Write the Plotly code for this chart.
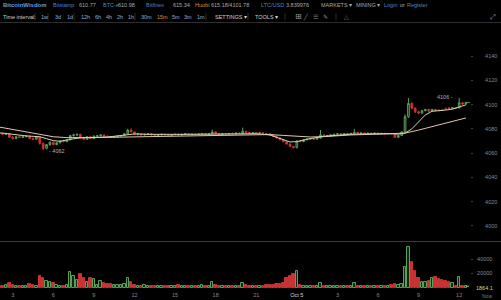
import plotly.graph_objects as go

# ---------------- data ----------------
O = [4076.5, 4076.0, 4075.5, 4076.2, 4073.0, 4072.0, 4073.5, 4073.0, 4073.6, 4074.0,
     4072.0, 4071.5, 4073.5, 4068.0, 4064.0, 4067.0, 4069.0, 4067.0, 4068.5, 4070.0,
     4069.5, 4071.0, 4074.5, 4075.0, 4075.5, 4072.5, 4071.5, 4073.5, 4072.0, 4074.0,
     4074.3, 4075.0, 4074.0, 4073.5, 4073.0, 4073.5, 4074.0, 4074.5, 4076.0, 4079.0,
     4077.5, 4075.5, 4076.0, 4075.0, 4075.5, 4076.0, 4075.0, 4074.5, 4075.0, 4075.5,
     4075.0, 4074.5, 4075.2, 4075.5, 4075.0, 4075.5, 4076.0, 4075.2, 4075.6, 4075.4,
     4075.8, 4076.2, 4075.5, 4076.0, 4077.5, 4076.0, 4075.5, 4076.0, 4075.6, 4076.2,
     4076.0, 4076.5, 4076.2, 4078.0, 4077.0, 4076.5, 4077.0, 4076.5, 4076.8, 4076.2,
     4076.0, 4075.0, 4074.0, 4072.5, 4071.0, 4069.5, 4067.5, 4065.5, 4064.5, 4070.0,
     4069.5, 4071.0, 4071.5, 4072.0, 4071.5, 4072.5, 4075.0, 4074.0, 4074.5, 4075.0,
     4075.5, 4076.0, 4075.6, 4076.2, 4075.8, 4076.3, 4077.0, 4076.4, 4076.6, 4076.0,
     4076.4, 4076.2, 4076.5, 4076.0, 4076.3, 4075.9, 4076.2, 4075.8, 4073.0, 4074.5,
     4077.5, 4090.0, 4101.0, 4097.0, 4094.0, 4093.0, 4095.0, 4096.0, 4094.5, 4096.0,
     4095.5, 4095.5, 4096.5, 4097.2, 4096.8, 4097.5, 4097.2, 4101.5, 4100.5]
H = [4077.5, 4077.0, 4076.8, 4076.5, 4074.0, 4074.0, 4074.5, 4074.0, 4074.5, 4074.5,
     4073.0, 4073.8, 4074.0, 4069.0, 4067.5, 4069.5, 4069.5, 4069.0, 4070.5, 4071.0,
     4071.5, 4075.0, 4076.0, 4076.0, 4076.0, 4073.5, 4074.0, 4074.0, 4074.5, 4074.8,
     4075.5, 4075.5, 4074.5, 4074.0, 4074.0, 4074.5, 4075.0, 4076.5, 4080.0, 4080.5,
     4078.0, 4076.5, 4076.5, 4076.0, 4076.5, 4076.5, 4075.5, 4075.5, 4076.0, 4076.0,
     4075.5, 4075.5, 4076.0, 4076.0, 4075.8, 4076.5, 4076.5, 4076.0, 4076.2, 4076.0,
     4076.5, 4076.6, 4076.5, 4079.5, 4078.0, 4076.5, 4076.5, 4076.5, 4076.5, 4076.8,
     4077.0, 4077.0, 4081.0, 4078.5, 4077.5, 4077.5, 4077.5, 4077.2, 4077.2, 4076.8,
     4076.5, 4075.5, 4074.5, 4073.0, 4071.5, 4070.0, 4068.0, 4066.0, 4070.5, 4071.0,
     4071.5, 4072.0, 4072.5, 4072.5, 4073.0, 4079.0, 4075.5, 4075.0, 4075.5, 4076.0,
     4076.5, 4076.5, 4076.5, 4076.8, 4076.6, 4080.0, 4077.5, 4077.0, 4077.0, 4076.8,
     4077.0, 4076.8, 4077.0, 4076.6, 4076.8, 4076.6, 4076.6, 4076.0, 4075.0, 4078.0,
     4092.0, 4105.5, 4102.0, 4098.0, 4095.0, 4095.5, 4096.5, 4096.5, 4096.5, 4096.5,
     4096.0, 4096.2, 4097.5, 4097.8, 4098.0, 4098.0, 4105.5, 4102.0, 4102.0]
L = [4075.5, 4075.0, 4074.8, 4072.5, 4071.0, 4071.5, 4072.5, 4072.5, 4073.0, 4071.5,
     4070.5, 4071.0, 4067.0, 4062.5, 4063.0, 4066.0, 4066.5, 4066.5, 4068.0, 4069.0,
     4069.0, 4070.5, 4073.5, 4074.0, 4072.0, 4071.0, 4071.0, 4071.5, 4071.5, 4073.5,
     4073.8, 4073.5, 4073.0, 4072.5, 4072.5, 4073.0, 4073.5, 4074.0, 4075.5, 4077.0,
     4075.0, 4074.5, 4074.5, 4074.5, 4075.0, 4074.5, 4074.0, 4074.0, 4074.5, 4074.5,
     4074.0, 4074.0, 4074.8, 4074.5, 4074.5, 4075.0, 4074.8, 4074.8, 4075.0, 4075.0,
     4075.2, 4075.0, 4075.0, 4075.5, 4075.5, 4075.0, 4075.0, 4075.2, 4075.2, 4075.5,
     4075.5, 4075.8, 4076.0, 4076.5, 4076.0, 4076.0, 4076.0, 4076.0, 4075.8, 4075.5,
     4074.5, 4073.5, 4072.0, 4070.5, 4069.0, 4067.0, 4065.0, 4064.0, 4064.0, 4069.0,
     4069.0, 4070.5, 4071.0, 4071.0, 4071.0, 4072.0, 4073.5, 4073.5, 4074.0, 4074.5,
     4075.0, 4075.2, 4075.2, 4075.5, 4075.4, 4076.0, 4076.0, 4075.8, 4075.8, 4075.5,
     4075.8, 4075.6, 4075.8, 4075.5, 4075.6, 4075.5, 4075.4, 4072.5, 4072.5, 4074.0,
     4077.0, 4089.0, 4096.0, 4093.0, 4092.0, 4092.5, 4094.5, 4094.0, 4094.0, 4094.5,
     4094.5, 4094.8, 4095.5, 4096.0, 4096.5, 4097.0, 4097.0, 4100.0, 4100.2]
C = [4076.0, 4075.5, 4076.2, 4073.0, 4072.0, 4073.5, 4073.0, 4073.6, 4074.0, 4072.0,
     4071.5, 4073.5, 4068.0, 4064.0, 4067.0, 4069.0, 4067.0, 4068.5, 4070.0, 4069.5,
     4071.0, 4074.5, 4075.0, 4075.5, 4072.5, 4071.5, 4073.5, 4072.0, 4074.0, 4074.3,
     4075.0, 4074.0, 4073.5, 4073.0, 4073.5, 4074.0, 4074.5, 4076.0, 4079.0, 4077.5,
     4075.5, 4076.0, 4075.0, 4075.5, 4076.0, 4075.0, 4074.5, 4075.0, 4075.5, 4075.0,
     4074.5, 4075.2, 4075.5, 4075.0, 4075.5, 4076.0, 4075.2, 4075.6, 4075.4, 4075.8,
     4076.2, 4075.5, 4076.0, 4077.5, 4076.0, 4075.5, 4076.0, 4075.6, 4076.2, 4076.0,
     4076.5, 4076.2, 4078.0, 4077.0, 4076.5, 4077.0, 4076.5, 4076.8, 4076.2, 4076.0,
     4075.0, 4074.0, 4072.5, 4071.0, 4069.5, 4067.5, 4065.5, 4064.5, 4070.0, 4069.5,
     4071.0, 4071.5, 4072.0, 4071.5, 4072.5, 4075.0, 4074.0, 4074.5, 4075.0, 4075.5,
     4076.0, 4075.6, 4076.2, 4075.8, 4076.3, 4077.0, 4076.4, 4076.6, 4076.0, 4076.4,
     4076.2, 4076.5, 4076.0, 4076.3, 4075.9, 4076.2, 4075.8, 4073.0, 4074.5, 4077.5,
     4090.0, 4101.0, 4097.0, 4094.0, 4093.0, 4095.0, 4096.0, 4094.5, 4096.0, 4095.0,
     4095.0, 4095.2, 4096.0, 4096.8, 4097.5, 4097.2, 4101.5, 4100.5, 4101.8]
VOL = [2000, 1500, 3000, 6000, 3500, 2500, 2000, 1800, 2200, 4500,
       3000, 1500, 17000, 13500, 10000, 8500, 6500, 3000, 2500, 2000,
       3000, 22000, 16000, 11000, 19000, 13000, 8500, 14000, 12000, 3000,
       10000, 7000, 5000, 4500, 3000, 3500, 3000, 5000, 14000, 8500,
       4000, 2500, 2000, 3000, 1800, 2200, 2500, 1500, 2000, 2800,
       2200, 1800, 2500, 3000, 2000, 2400, 1800, 2600, 2200, 2000,
       3000, 2500, 2000, 8500, 3000, 2000, 2500, 1800, 2200, 2000,
       2600, 2400, 7000, 3000, 2000, 2500, 2200, 1800, 2400, 3000,
       3500, 4000, 4500, 5000, 7000, 13000, 17000, 20000, 24000, 3000,
       2200, 2000, 2500, 1800, 2600, 7000, 2500, 2000, 2200, 1800,
       2500, 2000, 2400, 2200, 2000, 7000, 2000, 2400, 1800, 2200,
       2600, 2000, 2300, 1900, 2500, 2100, 3000, 5500, 4000, 4500,
       28600, 58000, 37000, 24000, 14000, 8000, 8000, 9500, 13000, 15000,
       12000, 10500, 9500, 8000, 6500, 2000, 15000, 2000, 1864.1]

MA_LONG_T = [2, 3, 4, 5, 6, 7, 8, 9, 10, 11, 12, 13, 14, 15, 16, 17, 18, 19, 20,
             21, 22, 23, 24, 25, 26, 27, 28, 29, 30, 31, 32, 33, 34, 35, 36, 36.5]
MA_LONG = [4081.5, 4079.5, 4077.5, 4075.5, 4073.5, 4072.8, 4072.6, 4072.8, 4073.0,
           4073.2, 4073.4, 4073.8, 4074.2, 4074.4, 4074.5, 4074.6, 4074.8, 4075.0,
           4075.2, 4075.3, 4075.3, 4074.6, 4073.8, 4073.3, 4073.6, 4074.4, 4075.0,
           4075.3, 4075.5, 4075.7, 4076.5, 4079.0, 4082.0, 4085.0, 4087.8, 4089.0]
MA_SHORT_T = [2, 3, 4, 5, 5.5, 6, 6.5, 7, 7.5, 8, 9, 10, 11, 12, 13, 14, 15, 16, 17,
              18, 19, 20, 21, 22, 22.5, 23, 23.5, 24, 24.5, 25, 26, 27, 28, 29, 30,
              31, 31.5, 32, 32.5, 33, 33.5, 34, 34.5, 35, 35.5, 36, 36.5]
MA_SHORT = [4076.8, 4075.2, 4074.2, 4073.5, 4072.0, 4070.3, 4069.8, 4070.5, 4071.8,
            4072.6, 4073.0, 4073.3, 4074.5, 4075.8, 4075.5, 4075.3, 4075.4, 4075.5,
            4075.6, 4075.8, 4076.2, 4076.4, 4076.0, 4075.0, 4073.0, 4071.0, 4069.2,
            4069.5, 4070.8, 4072.0, 4073.8, 4075.0, 4075.6, 4075.8, 4076.0, 4076.0,
            4075.6, 4076.5, 4080.0, 4085.5, 4091.5, 4094.5, 4095.3, 4095.5, 4096.2,
            4097.8, 4099.8]

PRICE_TICKS = [4000, 4020, 4040, 4060, 4080, 4100, 4120, 4140]
VOL_TICKS = [20000, 40000]
VOL_LABELS = ["20000", "40000"]
TIME_TICKS = [3, 6, 9, 12, 15, 18, 21, 24, 27, 30, 33, 36]
TIME_LABELS = ["3", "6", "9", "12", "15", "18", "21",
               '<span style="color:#d8d8d8">Oct 5</span>', "3", "6", "9", "12"]
LOW_LABEL, HIGH_LABEL = 4062, 4106
LAST_PRICE = 4101.78

# ---------------- layout constants ----------------
W, HGT = 501, 300
MT, MB, ML, MR = 24, 10, 0, 31
PW, PH = W - ML - MR, HGT - MT - MB

def px(x):
    return (x - ML) / PW

def py(y):
    return (HGT - MB - y) / PH

T = [2 + 0.25 * i for i in range(len(C))]
UP_LINE, UP_FILL = "#5c9e5c", "#102a10"
DN = "#c83232"
up = [c >= o for o, c in zip(O, C)]

fig = go.Figure()
fig.add_trace(go.Candlestick(
    x=T, open=O, high=H, low=L, close=C, xaxis="x", yaxis="y",
    increasing=dict(line=dict(color=UP_LINE, width=1), fillcolor=UP_FILL),
    decreasing=dict(line=dict(color=DN, width=1), fillcolor=DN),
    whiskerwidth=0, showlegend=False, hoverinfo="skip"))
fig.add_trace(go.Scatter(x=MA_LONG_T, y=MA_LONG, mode="lines", xaxis="x", yaxis="y",
                         line=dict(color="#e6c4b4", width=1), showlegend=False,
                         hoverinfo="skip"))
fig.add_trace(go.Scatter(x=MA_SHORT_T, y=MA_SHORT, mode="lines", xaxis="x", yaxis="y",
                         line=dict(color="#cfd6a8", width=1), showlegend=False,
                         hoverinfo="skip"))
fig.add_trace(go.Bar(
    x=T, y=VOL, xaxis="x2", yaxis="y2", width=0.18,
    marker=dict(color=[UP_FILL if u else DN for u in up],
                line=dict(color=[UP_LINE if u else DN for u in up], width=1)),
    showlegend=False, hoverinfo="skip"))

XR = [2.06, 36.80]
axis_font = dict(family="Liberation Sans, Arial, sans-serif", size=5.5, color="#8a8a8a")
fig.update_layout(
    width=W, height=HGT, margin=dict(l=ML, r=MR, t=MT, b=MB),
    paper_bgcolor="#000000", plot_bgcolor="#000000",
    bargap=0, showlegend=False,
    xaxis=dict(domain=[0, 1], range=XR, showticklabels=False, showgrid=False,
               zeroline=False, showline=False, rangeslider=dict(visible=False),
               anchor="y"),
    yaxis=dict(domain=[py(241), 1], range=[3987.6, 4166.4], side="right",
               tickvals=PRICE_TICKS, ticks="outside", ticklen=2, tickcolor="#3a3a3a",
               showgrid=False, zeroline=False, showline=False, tickfont=axis_font,
               ticklabelstandoff=11, anchor="x"),
    xaxis2=dict(domain=[0, 1], range=XR, tickvals=TIME_TICKS, ticktext=TIME_LABELS,
                tickfont=axis_font, showgrid=False, zeroline=False, showline=False,
                ticks="", anchor="y2"),
    yaxis2=dict(domain=[0, py(243)], range=[-3570, 63600], side="right",
                tickvals=VOL_TICKS, ticktext=VOL_LABELS, ticks="outside", ticklen=2,
                tickcolor="#3a3a3a", showgrid=False, zeroline=False, showline=False,
                tickfont=axis_font, ticklabelstandoff=3, anchor="x2"),
)

shapes = [
    dict(type="line", xref="paper", yref="paper", x0=0, x1=px(W), y0=py(22.5), y1=py(22.5),
         line=dict(color="#2e2e2e", width=1)),
    dict(type="line", xref="paper", yref="paper", x0=0, x1=px(W), y0=py(241.5), y1=py(241.5),
         line=dict(color="#3c3c3c", width=1)),
    dict(type="line", xref="x", yref="y", x0=T[-1], x1=XR[1] + 2.4, y0=LAST_PRICE,
         y1=LAST_PRICE, line=dict(color="#4f8f4f", width=1)),
    dict(type="line", xref="x2", yref="y2", x0=T[-1], x1=XR[1] + 0.3, y0=VOL[-1],
         y1=VOL[-1], line=dict(color="#c8c850", width=1, dash="dot")),
]
for sx in [35, 48, 74, 135, 206, 248, 285, 336]:
    shapes.append(dict(type="line", xref="paper", yref="paper", x0=px(sx), x1=px(sx),
                       y0=py(13), y1=py(20.5), line=dict(color="#2a2a2a", width=1)))
fig.update_layout(shapes=shapes)

F = "Liberation Sans, Arial, sans-serif"
anns = []

def ann(x, y, text, color, size=5.5, anchor="left", bold=False):
    if bold:
        text = "<b>" + text + "</b>"
    anns.append(dict(x=px(x), y=py(y), xref="paper", yref="paper", text=text,
                     showarrow=False, xanchor=anchor, yanchor="middle",
                     font=dict(family=F, size=size, color=color)))

BLUE, GREY, HUOBI = "#4f86c6", "#a8a8a8", "#c99a3a"
ann(1, 5, "BitcoinWisdom", "#5c9fe4", 6, bold=True)
ann(51, 5, "Bitstamp", BLUE)
ann(77, 5, "610.77", GREY)
ann(101, 5, "BTC-e", BLUE)
ann(116, 5, "610.98", GREY)
ann(144, 5, "Bitfinex", BLUE)
ann(171, 5, "615.34", GREY)
ann(193, 5, "Huobi", HUOBI)
ann(209, 5, "615.18/4101.78", GREY)
ann(259, 5, "LTC/USD", BLUE)
ann(284, 5, "3.839976", GREY)
ann(319, 5, "MARKETS ▾", GREY)
ann(354, 5, "MINING ▾", GREY)
ann(382, 5, "Login", BLUE)
ann(398, 5, "or", GREY)
ann(405, 5, "Register", BLUE)

ann(1, 17, "Time interval:", "#d0d0d0")
for xx, lab in [(39, "1w"), (53, "3d"), (65, "1d"), (79, "12h"), (93, "6h"), (104, "4h"),
                (115, "2h"), (126, "1h"), (139, "30m"), (155, "15m"), (170, "5m"),
                (182, "3m"), (195, "1m")]:
    ann(xx, 17, lab, "#e08a30" if lab == "15m" else "#8fb0d8")
ann(213, 17, "SETTINGS ▾", "#d0d0d0")
ann(253, 17, "TOOLS ▾", "#d0d0d0")
anns.append(dict(x=px(293), y=py(17), xref="paper", yref="paper", text="⊞",
                 showarrow=False, xanchor="left", yanchor="middle",
                 font=dict(family="DejaVu Sans", size=8, color="#9a9a9a")))
for xx, sym in [(301, "╱"), (311, "☰"), (321, "✎"), (342, "△")]:
    anns.append(dict(x=px(xx), y=py(17), xref="paper", yref="paper", text=sym,
                     showarrow=False, xanchor="left", yanchor="middle",
                     font=dict(family="DejaVu Sans", size=6, color="#8a8a8a")))
anns.append(dict(x=px(493), y=py(17), xref="paper", yref="paper", text="⤢",
                 showarrow=False, xanchor="center", yanchor="middle",
                 font=dict(family="DejaVu Sans", size=7, color="#9a9a9a")))

# high / low markers
anns.append(dict(x=T[13] + 0.3, y=LOW_LABEL, xref="x", yref="y", text="- " + str(LOW_LABEL),
                 showarrow=False, xanchor="left", yanchor="middle",
                 font=dict(family=F, size=5.5, color="#b0b0b0")))
anns.append(dict(x=T[136] - 0.3, y=HIGH_LABEL, xref="x", yref="y", text=str(HIGH_LABEL) + " -",
                 showarrow=False, xanchor="right", yanchor="middle",
                 font=dict(family=F, size=5.5, color="#b0b0b0")))
# last volume
anns.append(dict(x=px(474), y=py(287.5), xref="paper", yref="paper", text=str(VOL[-1]),
                 showarrow=False, xanchor="left", yanchor="middle",
                 font=dict(family=F, size=5.5, color="#d8d860")))
ann(487, 296, "Now", "#7a7a7a", 5, anchor="center")
fig.update_layout(annotations=anns)

fig.write_html("out.html")
